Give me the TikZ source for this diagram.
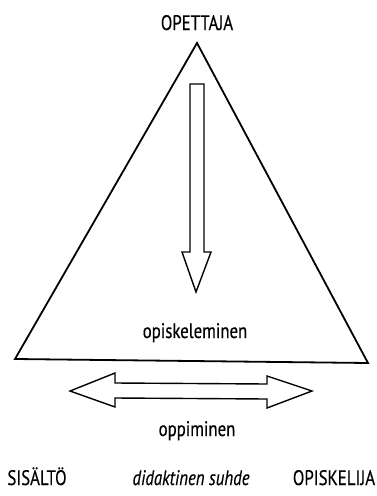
\documentclass[tikz,border=0pt]{standalone}
\usepackage{fontspec}
\setmainfont[FakeStretch=0.8,FakeBold=0.4]{PT Sans}
\begin{document}
\begin{tikzpicture}[x=1pt,y=-1pt,
  edge/.style={line width=1.8pt,line join=miter},
  hollow/.style={line width=1.4pt,line join=miter,fill=white},
  lbl/.style={font=\fontsize{21}{23}\selectfont,inner sep=0pt,anchor=base}]
\useasboundingbox (0,0) rectangle (376,496);
% the triangle
\coordinate (top) at (197,43);
\coordinate (bl) at (15,359);
\coordinate (br) at (368,363);
\draw[edge] (top) -- (bl) -- (br) -- cycle;
% hollow arrow pointing down
\draw[hollow] (190,84) -- (204,84) -- (204,252) -- (211,252) -- (196,292)
  -- (182,252) -- (190,252) -- cycle;
% hollow double arrow
\draw[hollow] (70,391) -- (115,373) -- (115,383) -- (267,384) -- (267,376)
  -- (312,391) -- (267,408) -- (267,399) -- (115,398) -- (115,407) -- cycle;
% labels
\node[lbl] (opettaja) at (197,30) {OPETTAJA};
\node[lbl] (opisk) at (195,338) {opiskeleminen};
\node[lbl] (oppim) at (197,436) {oppiminen};
\node[lbl] (sisalto) at (37,485) {SISÄLTÖ};
\node[lbl,font=\fontsize{21}{23}\selectfont\itshape] (suhde) at (191,485) {didaktinen suhde};
\node[lbl] (opiskelija) at (334,485) {OPISKELIJA};
\end{tikzpicture}
\end{document}
